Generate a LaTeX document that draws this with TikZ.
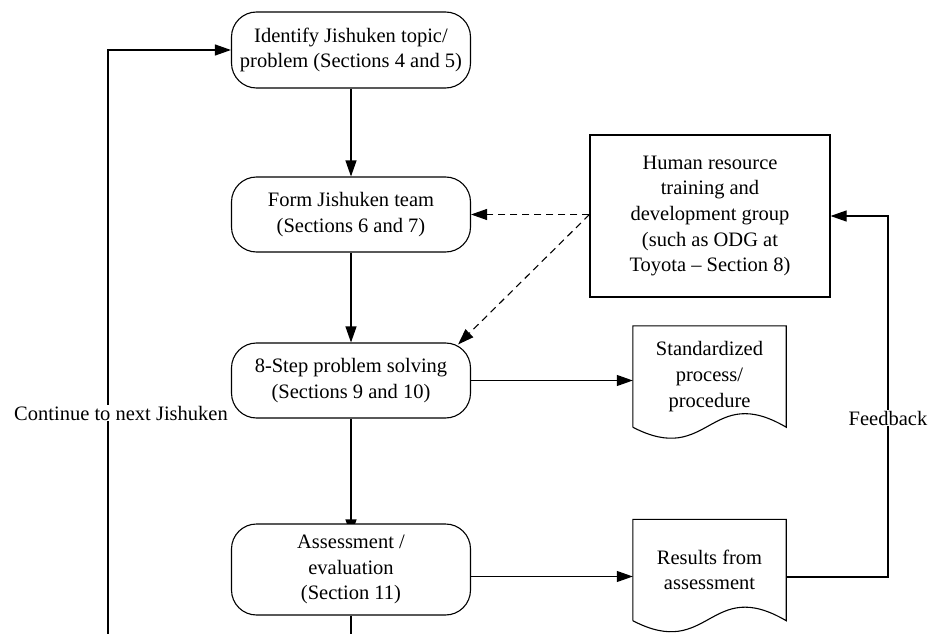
\documentclass[tikz,border=0pt]{standalone}
\usepackage{fontspec}
\setmainfont{Liberation Serif}
\usetikzlibrary{arrows.meta,calc,backgrounds}
\begin{document}
\begin{tikzpicture}[x=1pt,y=-1pt,
  every node/.style={font=\fontsize{20.5}{25.6}\selectfont, align=center, inner sep=0pt},
  stage/.style={draw, fill=white, rounded corners=25pt, minimum width=239pt, line width=1.1pt},
  group/.style={draw, fill=white, minimum width=240pt, minimum height=162pt, line width=1.1pt},
  docshape/.style={minimum width=153pt, minimum height=101pt},
  flow/.style={line width=1.1pt, -{Triangle[length=16pt,width=11pt]}},
  link/.style={flow, dash pattern=on 7pt off 5pt},
  outline/.style={line width=1.1pt},
  tag/.style={fill=white, inner sep=1pt}]
\useasboundingbox (0,0) rectangle (930,634);

% main process column
\node[stage, minimum height=76pt] (b1) at (351,50) {Identify Jishuken topic/\\problem (Sections 4 and 5)};
\node[stage, minimum height=75pt] (b2) at (351,214.5) {Form Jishuken team\\(Sections 6 and 7)};
\node[stage, minimum height=75pt] (b3) at (351,380.5) {8-Step problem solving\\(Sections 9 and 10)};
\node[stage, minimum height=91pt] (b4) at (351,569.5) {Assessment /\\evaluation\\(Section 11)};

% supporting group
\node[group] (hr) at (710,216) {Human resource\\training and\\development group\\(such as ODG at\\Toyota -- Section 8)};

% document outputs
\node[docshape] (std) at (709.5,376.5) {Standardized\\process/\\procedure};
\node[docshape] (res) at (709.5,570) {Results from\\assessment};
\foreach \d in {std,res}{
  \draw[outline] (\d.south west) -- (\d.north west) -- (\d.north east) -- (\d.south east)
    .. controls ($(\d.south)+(0,-45)$) and ($(\d.south)+(0,40)$) .. (\d.south west);
}

% flow between stages
\draw[flow] (b1.south) -- (b2.north);
\draw[flow] (b2.south) -- (b3.north);
\begin{pgfonlayer}{background}
  \draw[flow] (b3.south) -- ([yshift=-12pt]b4.north);
\end{pgfonlayer}
\draw[flow] (b3.east) -- (b3.east -| std.west);
\draw[flow] ([yshift=-7pt]b4.east) -- ([yshift=-7pt]b4.east -| res.west);

% training support
\draw[link] (hr.west |- b2.east) -- (b2.east);
\draw[link] (hr.west |- b2.east) -- ($(b3.north east)+(-13,2)$);

% feedback loop
\coordinate (fbx) at (888,0);
\draw[flow] ([yshift=-7pt]res.east) -- ([yshift=-7pt]res.east -| fbx) |- (hr.east);
\node[tag] (fbl) at (888,418) {Feedback};

% return loop to the next topic
\coordinate (ret) at (108,674);
\begin{scope}
  \clip (0,0) rectangle (930,634);
  \draw[flow] (b4.south) |- (ret) |- (b1.west);
\end{scope}
\node[tag] (cont) at (121,413) {Continue to next Jishuken};
\end{tikzpicture}
\end{document}
